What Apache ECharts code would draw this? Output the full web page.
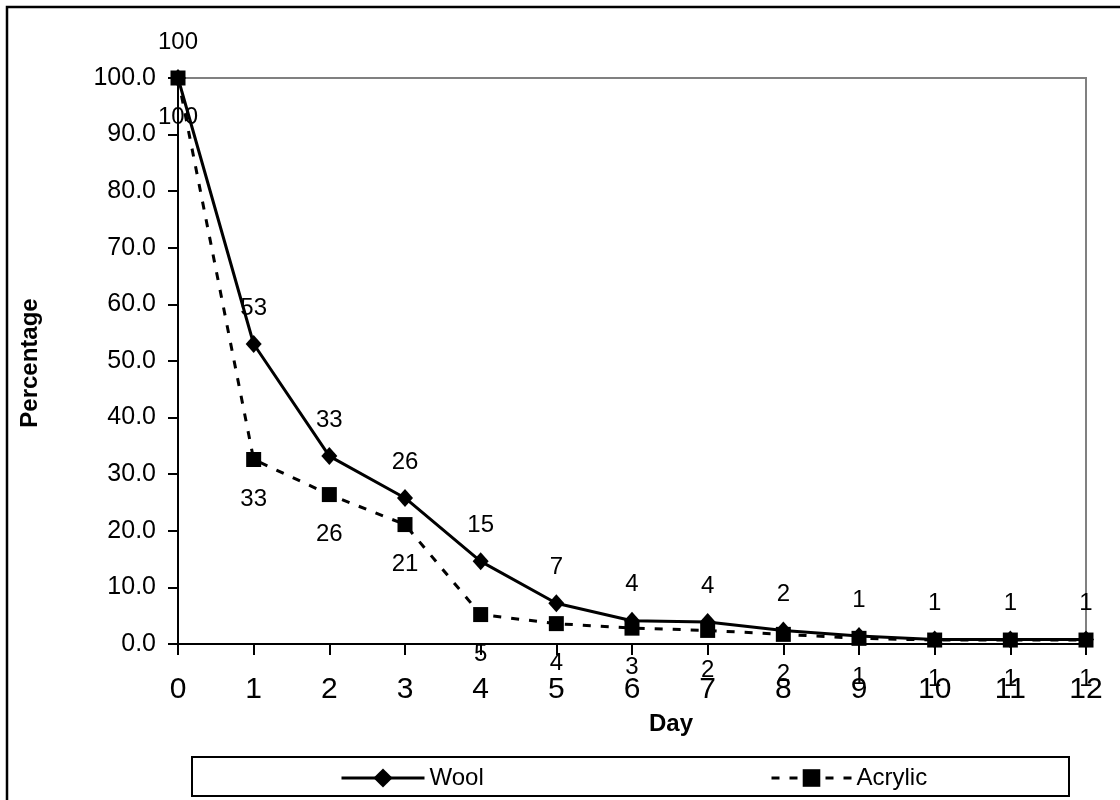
<!DOCTYPE html>
<html>
<head>
<meta charset="utf-8">
<script src="https://cdn.jsdelivr.net/npm/echarts@6/dist/echarts.min.js"></script>
<style>
html,body{margin:0;padding:0;background:#fff;}
#c{width:1120px;height:800px;}
</style>
</head>
<body>
<div id="c"></div>
<script>
var days = [0,1,2,3,4,5,6,7,8,9,10,11,12];
var wool = [100, 53.0, 33.2, 25.8, 14.6, 7.2, 4.1, 3.9, 2.4, 1.4, 0.8, 0.8, 0.8];
var acrylic = [100, 32.6, 26.4, 21.1, 5.2, 3.6, 2.8, 2.4, 1.7, 1.0, 0.7, 0.7, 0.7];
var seriesNames = ['Wool', 'Acrylic'];
var xTitle = 'Day';
var yTitle = 'Percentage';

var FONT = 'Liberation Sans, Arial, sans-serif';
function pairs(arr){ return days.map(function(d,i){ return [d, arr[i]]; }); }

var chart = echarts.init(document.getElementById('c'), null, {renderer:'canvas'});
chart.setOption({
  backgroundColor:'#fff',
  animation:false,
  grid:{left:178, right:34, top:78, bottom:156, show:true, borderColor:'#808080', borderWidth:2, backgroundColor:'transparent'},
  xAxis:{
    type:'value', min:0, max:12, interval:1,
    axisLine:{show:true, lineStyle:{color:'#000', width:2}},
    axisTick:{show:true, inside:false, length:11, lineStyle:{color:'#000', width:2}},
    axisLabel:{fontFamily:FONT, fontSize:30, color:'#000', margin:31},
    splitLine:{show:false}
  },
  yAxis:{
    type:'value', min:0, max:100, interval:10,
    axisLine:{show:true, lineStyle:{color:'#000', width:2}},
    axisTick:{show:true, inside:false, length:10, lineStyle:{color:'#000', width:2}},
    axisLabel:{fontFamily:FONT, fontSize:25, color:'#000', margin:22, formatter:function(v){return v.toFixed(1);}},
    splitLine:{show:false}
  },
  legend:[
    {data:[seriesNames[0]], left:335, top:761, itemWidth:83, itemHeight:24, itemGap:0,
     lineStyle:{width:3},
     textStyle:{fontFamily:FONT, fontSize:24, color:'#000'}},
    {data:[seriesNames[1]], left:765, top:761, itemWidth:80, itemHeight:22, itemGap:0,
     lineStyle:{width:3},
     textStyle:{fontFamily:FONT, fontSize:24, color:'#000'}}
  ],
  graphic:[
    {type:'rect', shape:{x:7, y:7, width:1200, height:900}, style:{fill:'none', stroke:'#000', lineWidth:2.5}, z:-1},
    {type:'rect', shape:{x:192, y:757, width:877, height:39}, style:{fill:'none', stroke:'#000', lineWidth:2}, z:-1},
    {type:'text', x:671, y:724, style:{text:xTitle, fontFamily:FONT, fontSize:24, fontWeight:'bold', fill:'#000', textAlign:'center', textVerticalAlign:'middle'}},
    {type:'text', x:30, y:363, rotation:Math.PI/2, style:{text:yTitle, fontFamily:FONT, fontSize:24, fontWeight:'bold', fill:'#000', textAlign:'center', textVerticalAlign:'middle'}}
  ],
  series:[
    {name:seriesNames[0], type:'line', data:pairs(wool), clip:false,
     symbol:'diamond', symbolSize:[16,18],
     lineStyle:{color:'#000', width:3, type:'solid'},
     itemStyle:{color:'#000'},
     label:{show:true, position:'top', distance:15, fontFamily:FONT, fontSize:24, color:'#000',
       formatter:function(p){return Math.round(p.value[1]);}},
     z:2},
    {name:seriesNames[1], type:'line', data:pairs(acrylic), clip:false,
     symbol:'rect', symbolSize:15,
     lineStyle:{color:'#000', width:3, type:[8,10]},
     itemStyle:{color:'#000'},
     label:{show:true, position:'bottom', distance:20, fontFamily:FONT, fontSize:24, color:'#000',
       formatter:function(p){return Math.round(p.value[1]);}},
     z:3}
  ]
});
</script>
</body>
</html>
